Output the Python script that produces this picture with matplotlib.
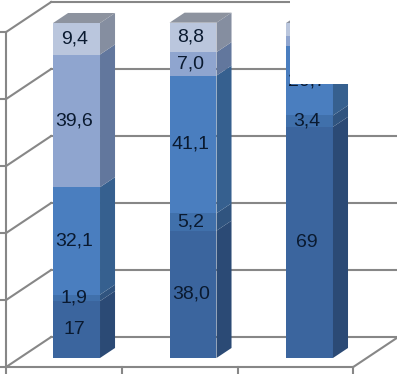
import matplotlib.pyplot as plt
from matplotlib.patches import Polygon, Rectangle

# Stacked shares per group (bottom -> top)
groups = ["1", "2", "3"]
s1 = [17, 38.0, 69]
s2 = [1.9, 5.2, 3.4]
s3 = [32.1, 41.1, 20.7]
s4 = [39.6, 7.0, 2.9]
s5 = [9.4, 8.8, 4.0]
series = [s1, s2, s3, s4, s5]

# Labels as printed on the chart
lab1 = ["17", "38,0", "69"]
lab2 = ["1,9", "5,2", "3,4"]
lab3 = ["32,1", "41,1", "20,7"]
lab4 = ["39,6", "7,0", ""]
lab5 = ["9,4", "8,8", ""]
labels = [lab1, lab2, lab3, lab4, lab5]

y_levels = [0, 20, 40, 60, 80, 100]

# front / side colours of each series
front_cols = ["#3B659E", "#4070AB", "#4A7EBF", "#8FA5CF", "#BAC6DD"]
side_cols = ["#2B4A75", "#30547F", "#36608F", "#62779D", "#858EA0"]
top_col = "#8D939F"
grid_col = "#878787"

# 3d geometry (data units: x = category, y = value)
w = 0.403
bdx, bdy = 0.129, 2.99        # bar depth
fdx, fdy = -0.1245, -2.69     # front plane offset
kdx, kdy = 0.262, 6.27        # back wall offset
xl, xr = -0.48, 2.5

fig = plt.figure(figsize=(3.97, 3.74), dpi=100)
ax = fig.add_axes([0, 0, 1, 1])
ax.set_xlim(-0.657, 2.751)
ax.set_ylim(-4.78, 106.87)
ax.set_axis_off()

lw = 1.5
# back wall gridlines and left wall diagonals
for lv in y_levels:
    ax.plot([xl + kdx, xr + kdx], [lv + kdy, lv + kdy], color=grid_col, lw=lw, zorder=1)
    ax.plot([xl + fdx, xl + kdx], [lv + fdy, lv + kdy], color=grid_col, lw=lw, zorder=1)
    ax.plot([xl + fdx - 0.045, xl + fdx], [lv + fdy, lv + fdy], color=grid_col, lw=lw, zorder=1)

# left axis and floor
ax.plot([xl + fdx, xl + fdx], [fdy, 100 + fdy], color=grid_col, lw=lw, zorder=1)
ax.plot([xl + fdx, xr + fdx], [fdy, fdy], color=grid_col, lw=lw, zorder=1)
ax.plot([xr + fdx, xr + kdx], [fdy, kdy], color=grid_col, lw=lw, zorder=1)
for k in range(len(groups) + 1):
    xt = xl + k * (xr - xl) / len(groups) + fdx
    ax.plot([xt, xt], [fdy, fdy - 1.8], color=grid_col, lw=lw, zorder=1)

# bars
xs = list(range(len(groups)))
bottoms = [0.0] * len(groups)
for si, vals in enumerate(series):
    ax.bar(xs, vals, bottom=bottoms, width=w, color=front_cols[si], zorder=3)
    for i, v in enumerate(vals):
        b = bottoms[i]
        xr_edge = i + w / 2
        ax.add_patch(Polygon([(xr_edge, b), (xr_edge + bdx, b + bdy),
                              (xr_edge + bdx, b + v + bdy), (xr_edge, b + v)],
                             closed=True, facecolor=side_cols[si], edgecolor="none", zorder=3))
        if labels[si][i]:
            ax.text(i - 0.02, b + v / 2, labels[si][i], ha="center", va="center",
                    fontsize=14, color="#0A1A30", family="Liberation Sans", zorder=5)
    bottoms = [b + v for b, v in zip(bottoms, vals)]

# top faces
for i, t in enumerate(bottoms):
    ax.add_patch(Polygon([(i - w / 2, t), (i - w / 2 + bdx, t + bdy),
                          (i + w / 2 + bdx, t + bdy), (i + w / 2, t)],
                         closed=True, facecolor=top_col, edgecolor="none", zorder=3))

# white patch covering the top right of the original
ax.add_patch(Rectangle((0.730, 0.775), 0.27, 0.225, transform=ax.transAxes,
                       facecolor="white", edgecolor="none", zorder=10))

fig.savefig("out.png", dpi=100)
